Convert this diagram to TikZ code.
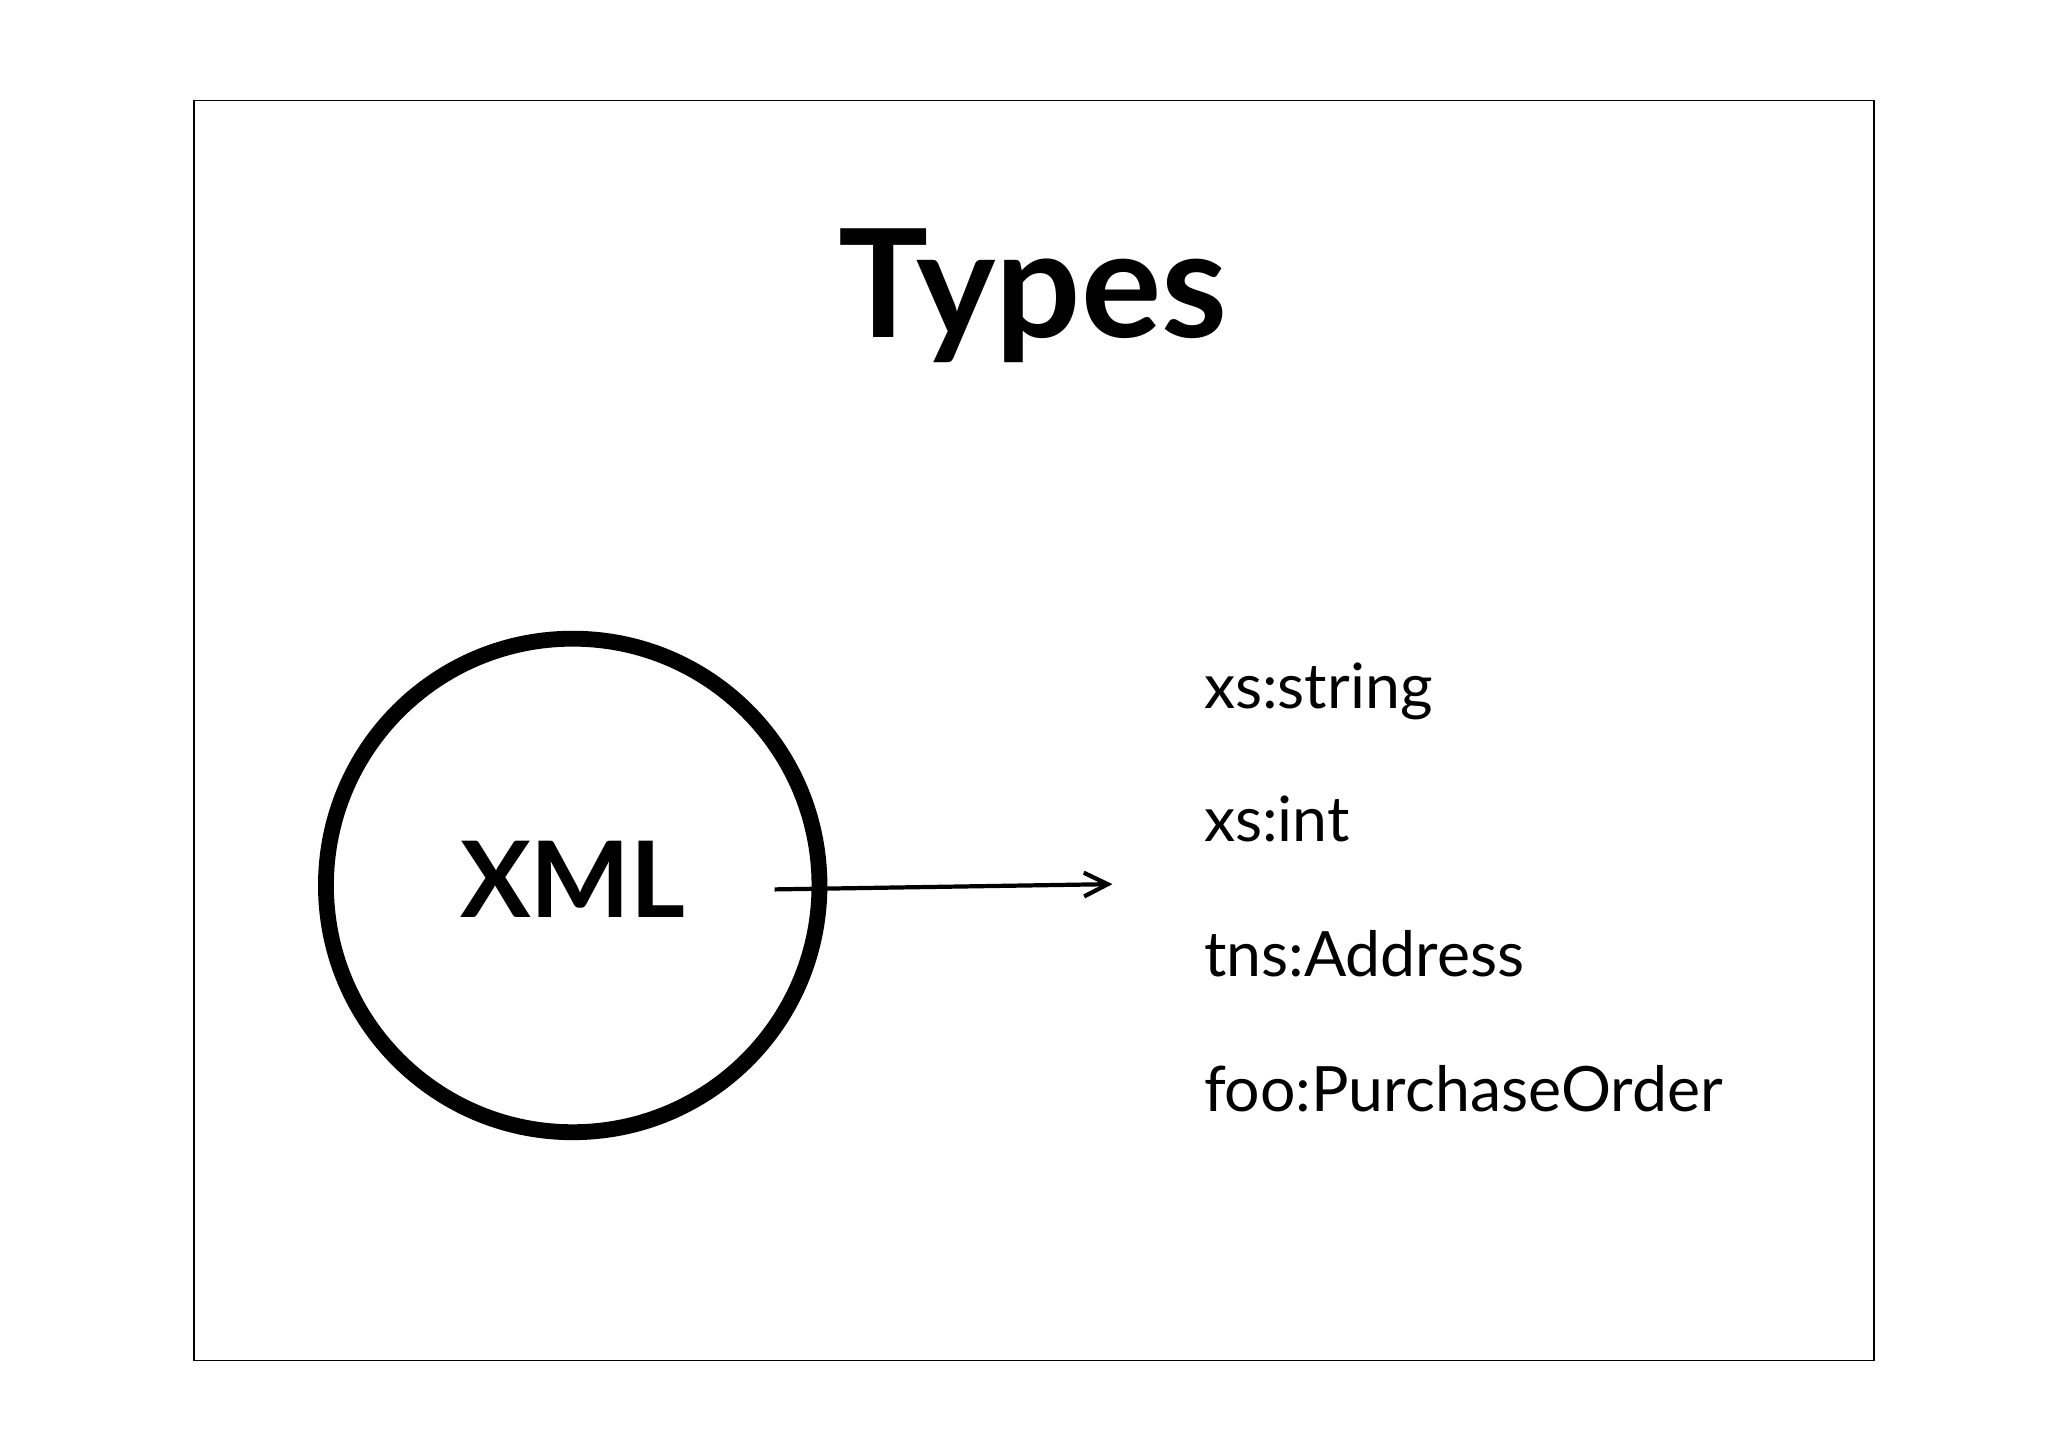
\documentclass[tikz,border=0pt]{standalone}
\usepackage{fontspec}
\usetikzlibrary{arrows.meta}
\setmainfont{Lato}
\begin{document}
\begin{tikzpicture}[x=0.5pt,y=-0.5pt,
  item/.style={anchor=base west,inner sep=0pt,font=\fontsize{23.7}{28}\selectfont}]
\useasboundingbox (0,0) rectangle (1552,1097);
\fill[white] (0,0) rectangle (1552,1097);
\draw[line width=0.5pt] (147,76) rectangle (1420,1031);
\node[font=\fontsize{57}{64}\selectfont\bfseries,anchor=base,inner sep=0pt] (title) at (783,256) {Types};
\node[circle,draw,line width=6pt,minimum size=187pt,inner sep=0pt] (c) at (434,671) {};
\node[font=\fontsize{40}{46}\selectfont\bfseries,anchor=base,inner sep=0pt] (xml) at (434,695) {XML};
\coordinate (a0) at (587,674);
\coordinate (a1) at (843,670);
\draw[line width=1.6pt,-{Straight Barb[length=9pt,width=9pt]}] (a0) -- (a1);
\node[item] (t1) at (912,537) {xs:string};
\node[item] (t2) at (912,638) {xs:int};
\node[item] (t3) at (912,740) {tns:Address};
\node[item] (t4) at (912,842) {foo:PurchaseOrder};
\end{tikzpicture}
\end{document}
